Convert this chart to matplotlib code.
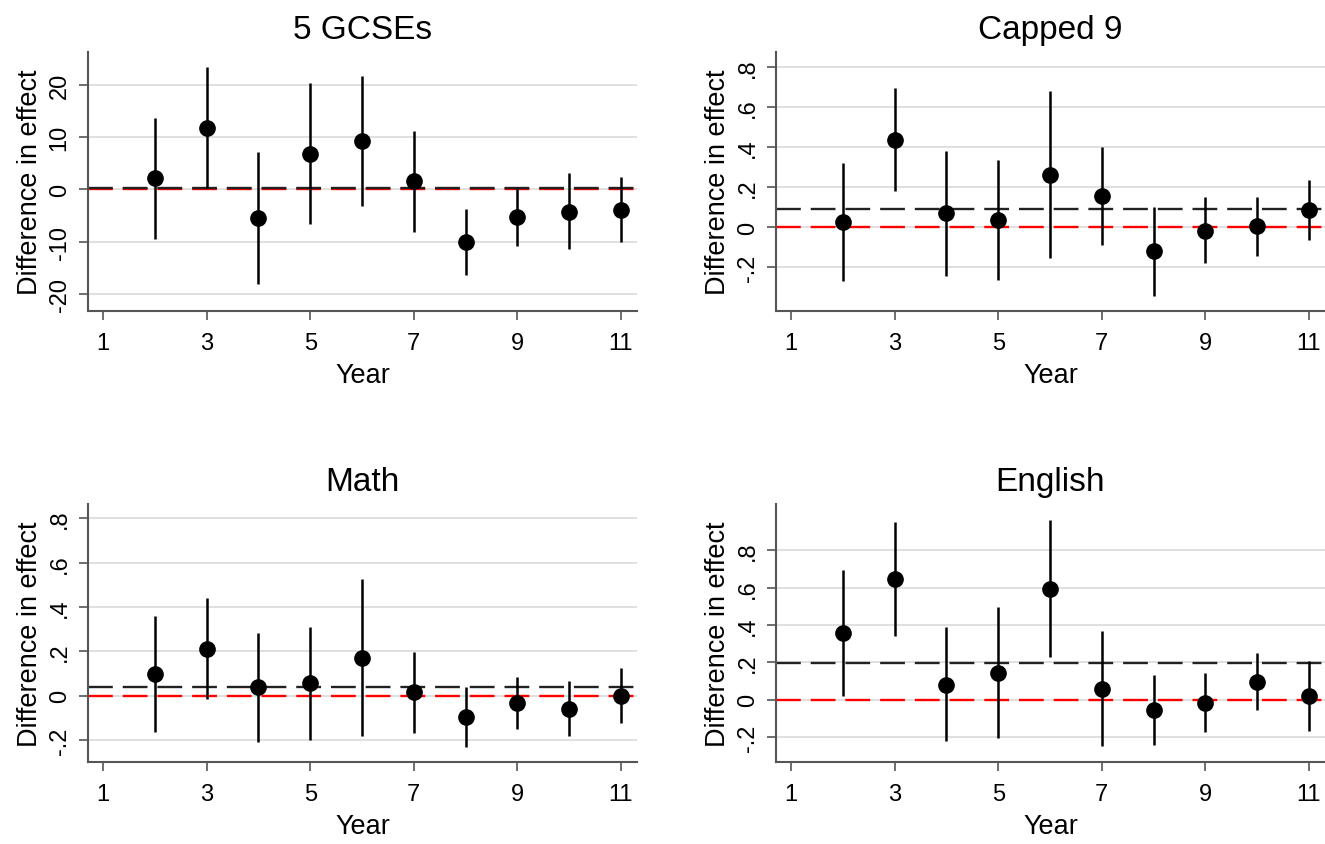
import numpy as np
import matplotlib.pyplot as plt

plt.rcParams['font.family'] = ['Liberation Sans', 'DejaVu Sans']

years = [2, 3, 4, 5, 6, 7, 8, 9, 10, 11]

titles = ['5 GCSEs', 'Capped 9', 'Math', 'English']

# point estimates
est_gcse = [2.1, 11.7, -5.4, 6.8, 9.2, 1.6, -10.1, -5.3, -4.3, -3.9]
est_capped = [0.028, 0.438, 0.07, 0.038, 0.262, 0.158, -0.12, -0.017, 0.005, 0.087]
est_math = [0.10, 0.213, 0.038, 0.056, 0.17, 0.015, -0.095, -0.035, -0.06, 0.0]
est_english = [0.357, 0.644, 0.081, 0.145, 0.595, 0.06, -0.055, -0.018, 0.096, 0.021]

# upper / lower confidence bounds
hi_gcse = [13.6, 23.4, 7.2, 20.3, 21.8, 11.2, -3.8, 0.2, 3.2, 2.3]
lo_gcse = [-9.5, 0.2, -18.0, -6.6, -3.1, -8.1, -16.3, -10.9, -11.4, -10.0]
hi_capped = [0.32, 0.697, 0.38, 0.338, 0.68, 0.40, 0.10, 0.15, 0.153, 0.238]
lo_capped = [-0.27, 0.18, -0.245, -0.262, -0.153, -0.087, -0.342, -0.178, -0.145, -0.063]
hi_math = [0.36, 0.443, 0.285, 0.308, 0.525, 0.198, 0.038, 0.083, 0.068, 0.125]
lo_math = [-0.165, -0.015, -0.21, -0.198, -0.183, -0.168, -0.23, -0.15, -0.183, -0.123]
hi_english = [0.694, 0.954, 0.391, 0.497, 0.963, 0.37, 0.135, 0.143, 0.25, 0.21]
lo_english = [0.021, 0.343, -0.223, -0.202, 0.228, -0.246, -0.241, -0.175, -0.055, -0.165]

# average effect (black dashed line)
avg = [0.3, 0.093, 0.04, 0.196]

yticks_gcse = [-20, -10, 0, 10, 20]
ytick_labels_gcse = ['-20', '-10', '0', '10', '20']
yticks_share = [-0.2, 0, 0.2, 0.4, 0.6, 0.8]
ytick_labels_share = ['-.2', '0', '.2', '.4', '.6', '.8']
xticks = [1, 3, 5, 7, 9, 11]

ylims = [(-23.25, 26.3), (-0.418, 0.876), (-0.299, 0.865), (-0.333, 1.048)]

ests = [est_gcse, est_capped, est_math, est_english]
his = [hi_gcse, hi_capped, hi_math, hi_english]
los = [lo_gcse, lo_capped, lo_math, lo_english]

fig = plt.figure(figsize=(13.25, 8.45), dpi=100)
W, H = 1325, 845
pos = [(88, 53, 549, 259), (776, 53, 549, 259), (88, 505, 549, 258), (776, 505, 549, 258)]
spine_col = '#555555'

for i in range(4):
    l, t, w, h = pos[i]
    ax = fig.add_axes([l / W, 1 - (t + h) / H, w / W, h / H])
    if i == 0:
        yt, ytl = yticks_gcse, ytick_labels_gcse
    else:
        yt, ytl = yticks_share, ytick_labels_share
    for y in yt:
        ax.axhline(y, color='#dadada', lw=1.2, zorder=0)
    ax.axhline(0, color='red', lw=1.7, dashes=(10.5, 4.2), zorder=1)
    ax.axhline(avg[i], color='#222222', lw=1.7, dashes=(10.5, 4.2), zorder=1)
    ax.vlines(years, los[i], his[i], color='black', lw=1.8, zorder=2)
    ax.plot(years, ests[i], 'o', color='black', markersize=11, zorder=3)

    ax.set_xlim(0.71, 11.31)
    ax.set_ylim(*ylims[i])
    ax.set_xticks(xticks)
    ax.set_yticks(yt)
    ax.set_yticklabels(ytl, rotation=90, va='center')
    ax.tick_params(axis='both', labelsize=17, length=6.5, width=1.2, color=spine_col)
    ax.tick_params(axis='y', pad=6)
    ax.tick_params(axis='x', pad=8.5)
    for s in ['top', 'right']:
        ax.spines[s].set_visible(False)
    for s in ['left', 'bottom']:
        ax.spines[s].set_color(spine_col)
        ax.spines[s].set_linewidth(1.5)
    ax.set_title(titles[i], fontsize=24, pad=10)
    ax.set_xlabel('Year', fontsize=19.5, labelpad=6)
    ax.set_ylabel('Difference in effect', fontsize=19.5, labelpad=4)

fig.savefig('out.png', dpi=100, facecolor='white')
